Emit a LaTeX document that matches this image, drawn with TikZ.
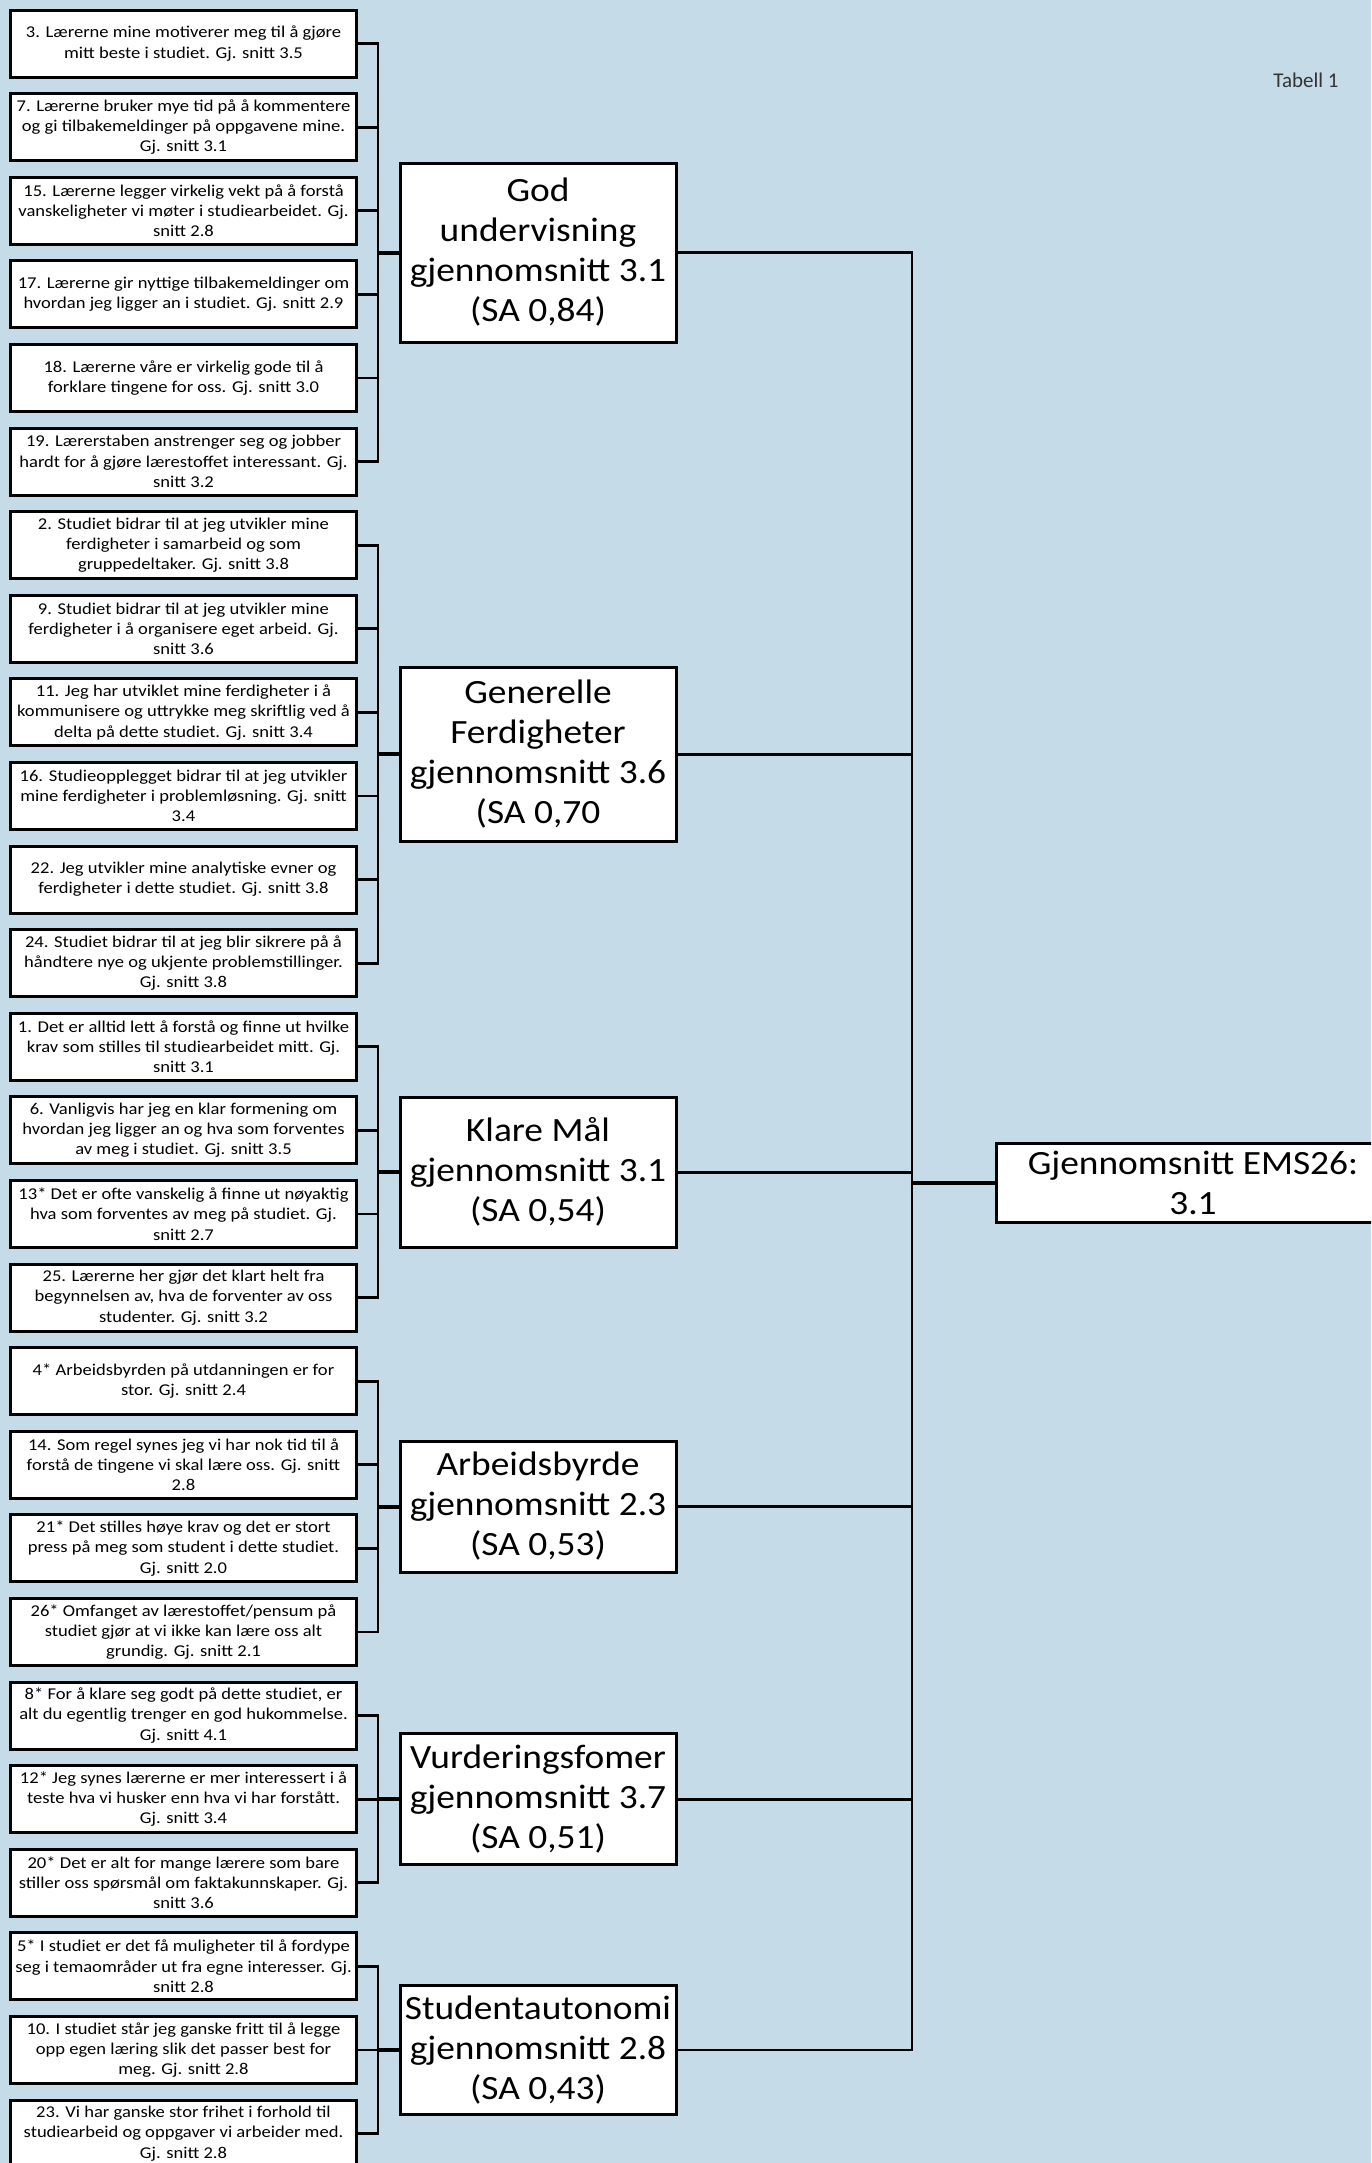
\documentclass[tikz,border=0pt]{standalone}
\usepackage{fontspec}
\setmainfont{Carlito}
\newfontfamily\itemfont[FakeStretch=1.125]{Carlito}
\newfontfamily\catfont[FakeStretch=1.1]{Carlito}
\usepackage{xcolor}
\usetikzlibrary{positioning,calc}
\definecolor{bgblue}{HTML}{C5DBE8}

\begin{document}
\begin{tikzpicture}[
    x=1pt, y=1pt,
    node distance=16.6pt,
    item/.style={rectangle, draw, line width=3pt, fill=white, outer sep=0pt, inner sep=2pt, minimum width=346pt, minimum height=67pt, align=center, font=\itemfont\fontsize{16.5}{20.3}\selectfont},
    cat/.style={rectangle, draw, line width=3pt, fill=white, outer sep=0pt, minimum width=276pt, align=center, font=\catfont\fontsize{34}{40}\selectfont},
    link/.style={line width=2.8pt, line cap=rect},
    feed/.style={line width=4pt}
]
    \useasboundingbox (0,0) rectangle (1371,-2163);
    \clip (0,0) rectangle (1371,-2163);
    \fill[bgblue] (0,0) rectangle (1371,-2163);

    \node[font=\fontsize{21}{24}\selectfont, text=black!80] (tabell) at (1306,-80) {Tabell 1};

    % God undervisning
    \node[item] (q3) at (183.5,-43.5) {3. Lærerne mine motiverer meg til å gjøre\\mitt beste i studiet. Gj. snitt 3.5};
    \node[item, below=of q3] (q7) {7. Lærerne bruker mye tid på å kommentere\\og gi tilbakemeldinger på oppgavene mine.\\Gj. snitt 3.1};
    \node[item, below=of q7] (q15) {15. Lærerne legger virkelig vekt på å forstå\\vanskeligheter vi møter i studiearbeidet. Gj.\\snitt 2.8};
    \node[item, below=of q15] (q17) {17. Lærerne gir nyttige tilbakemeldinger om\\hvordan jeg ligger an i studiet. Gj. snitt 2.9};
    \node[item, below=of q17] (q18) {18. Lærerne våre er virkelig gode til å\\forklare tingene for oss. Gj. snitt 3.0};
    \node[item, below=of q18] (q19) {19. Lærerstaben anstrenger seg og jobber\\hardt for å gjøre lærestoffet interessant. Gj.\\snitt 3.2};

    % Generelle ferdigheter
    \node[item, below=of q19] (q2) {2. Studiet bidrar til at jeg utvikler mine\\ferdigheter i samarbeid og som\\gruppedeltaker. Gj. snitt 3.8};
    \node[item, below=of q2] (q9) {9. Studiet bidrar til at jeg utvikler mine\\ferdigheter i å organisere eget arbeid. Gj.\\snitt 3.6};
    \node[item, below=of q9] (q11) {11. Jeg har utviklet mine ferdigheter i å\\kommunisere og uttrykke meg skriftlig ved å\\delta på dette studiet. Gj. snitt 3.4};
    \node[item, below=of q11] (q16) {16. Studieopplegget bidrar til at jeg utvikler\\mine ferdigheter i problemløsning. Gj. snitt\\3.4};
    \node[item, below=of q16] (q22) {22. Jeg utvikler mine analytiske evner og\\ferdigheter i dette studiet. Gj. snitt 3.8};
    \node[item, below=of q22] (q24) {24. Studiet bidrar til at jeg blir sikrere på å\\håndtere nye og ukjente problemstillinger.\\Gj. snitt 3.8};

    % Klare mål
    \node[item, below=of q24] (q1) {1. Det er alltid lett å forstå og finne ut hvilke\\krav som stilles til studiearbeidet mitt. Gj.\\snitt 3.1};
    \node[item, below=of q1] (q6) {6. Vanligvis har jeg en klar formening om\\hvordan jeg ligger an og hva som forventes\\av meg i studiet. Gj. snitt 3.5};
    \node[item, below=of q6] (q13) {13* Det er ofte vanskelig å finne ut nøyaktig\\hva som forventes av meg på studiet. Gj.\\snitt 2.7};
    \node[item, below=of q13] (q25) {25. Lærerne her gjør det klart helt fra\\begynnelsen av, hva de forventer av oss\\studenter. Gj. snitt 3.2};

    % Arbeidsbyrde
    \node[item, below=of q25] (q4) {4* Arbeidsbyrden på utdanningen er for\\stor. Gj. snitt 2.4};
    \node[item, below=of q4] (q14) {14. Som regel synes jeg vi har nok tid til å\\forstå de tingene vi skal lære oss. Gj. snitt\\2.8};
    \node[item, below=of q14] (q21) {21* Det stilles høye krav og det er stort\\press på meg som student i dette studiet.\\Gj. snitt 2.0};
    \node[item, below=of q21] (q26) {26* Omfanget av lærestoffet/pensum på\\studiet gjør at vi ikke kan lære oss alt\\grundig. Gj. snitt 2.1};

    % Vurderingsformer
    \node[item, below=of q26] (q8) {8* For å klare seg godt på dette studiet, er\\alt du egentlig trenger en god hukommelse.\\Gj. snitt 4.1};
    \node[item, below=of q8] (q12) {12* Jeg synes lærerne er mer interessert i å\\teste hva vi husker enn hva vi har forstått.\\Gj. snitt 3.4};
    \node[item, below=of q12] (q20) {20* Det er alt for mange lærere som bare\\stiller oss spørsmål om faktakunnskaper. Gj.\\snitt 3.6};

    % Studentautonomi
    \node[item, below=of q20] (q5) {5* I studiet er det få muligheter til å fordype\\seg i temaområder ut fra egne interesser. Gj.\\snitt 2.8};
    \node[item, below=of q5] (q10) {10. I studiet står jeg ganske fritt til å legge\\opp egen læring slik det passer best for\\meg. Gj. snitt 2.8};
    \node[item, below=of q10] (q23) {23. Vi har ganske stor frihet i forhold til\\studiearbeid og oppgaver vi arbeider med.\\Gj. snitt 2.8};

    % categories
    \node[cat, minimum height=179pt] (god) at ($(q3)!0.5!(q19) + (354.5,0)$) {God\\undervisning\\gjennomsnitt 3.1\\(SA 0,84)};
    \node[cat, minimum height=174pt] (gen) at ($(q2)!0.5!(q24) + (354.5,0)$) {Generelle\\Ferdigheter\\gjennomsnitt 3.6\\(SA 0,70};
    \node[cat, minimum height=150pt] (klare) at ($(q1)!0.5!(q25) + (354.5,0)$) {Klare Mål\\gjennomsnitt 3.1\\(SA 0,54)};
    \node[cat, minimum height=131pt] (arb) at ($(q4)!0.5!(q26) + (354.5,0)$) {Arbeidsbyrde\\gjennomsnitt 2.3\\(SA 0,53)};
    \node[cat, minimum height=131pt] (vurd) at ($(q8)!0.5!(q20) + (354.5,0)$) {Vurderingsfomer\\gjennomsnitt 3.7\\(SA 0,51)};
    \node[cat, minimum height=129pt] (stud) at ($(q5)!0.5!(q23) + (354.5,0)$) {Studentautonomi\\gjennomsnitt 2.8\\(SA 0,43)};

    \node[cat, minimum width=394pt, minimum height=79pt] (total) at (1193,-1183) {Gjennomsnitt EMS26:\\3.1};

    % brackets
    \coordinate (bus) at (378,0);
    \coordinate (trunk) at (912,0);
    \foreach \q in {3,7,15,17,18,19,2,9,11,16,22,24,1,6,13,25,4,14,21,26,8,12,20,5,10,23}
        \draw[link] (q\q.east) -- (q\q.east -| bus);
    \draw[link] (q3.east -| bus) -- (q19.east -| bus);
    \draw[link] (q2.east -| bus) -- (q24.east -| bus);
    \draw[link] (q1.east -| bus) -- (q25.east -| bus);
    \draw[link] (q4.east -| bus) -- (q26.east -| bus);
    \draw[link] (q8.east -| bus) -- (q20.east -| bus);
    \draw[link] (q5.east -| bus) -- (q23.east -| bus);
    \foreach \c in {god,gen,klare,arb,vurd,stud} {
        \draw[feed] (\c.west -| bus) -- (\c.west);
        \draw[link] (\c.east) -- (\c.east -| trunk);
    }
    \draw[link] (god.east -| trunk) -- (stud.east -| trunk);
    \draw[feed] (total.west -| trunk) -- (total.west);
\end{tikzpicture}
\end{document}
